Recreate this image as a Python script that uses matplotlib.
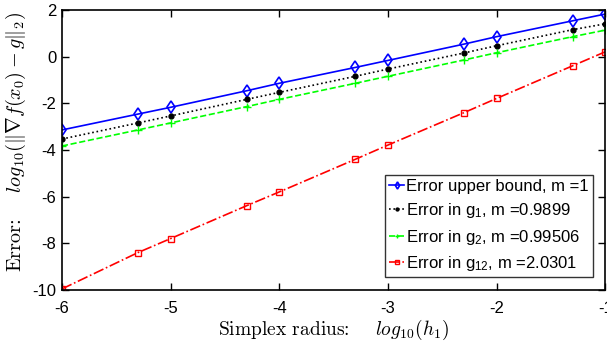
import matplotlib
matplotlib.use('Agg')
import matplotlib.pyplot as plt

plt.rcParams['font.family'] = ['Liberation Sans', 'DejaVu Sans']
plt.rcParams['mathtext.fontset'] = 'cm'
plt.rcParams['axes.unicode_minus'] = False

# data: log10 of simplex radius vs log10 of error
h = [-6, -5.3, -5, -4.3, -4, -3.3, -3, -2.3, -2, -1.3, -1]
err_bound = [-3.14, -2.46, -2.17, -1.46, -1.14, -0.46, -0.16, 0.54, 0.86, 1.54, 1.83]
err_g1 = [-3.53, -2.84, -2.54, -1.83, -1.53, -0.84, -0.53, 0.16, 0.47, 1.16, 1.41]
err_g2 = [-3.83, -3.14, -2.84, -2.14, -1.83, -1.14, -0.84, -0.14, 0.17, 0.86, 1.14]
err_g12 = [-9.96, -8.40, -7.80, -6.39, -5.80, -4.40, -3.79, -2.40, -1.79, -0.39, 0.21]

labels = ['Error upper bound, m =1',
          r'Error in g$\mathregular{_1}$, m =0.9899',
          r'Error in g$\mathregular{_2}$, m =0.99506',
          r'Error in g$\mathregular{_{12}}$, m =2.0301']

fig = plt.figure(figsize=(6.07, 3.48), dpi=100)
ax = fig.add_axes([0.102, 0.167, 0.895, 0.804])

ax.plot(h, err_bound, 'b-', marker='d', mfc='none', ms=6, mew=1.2, lw=1.2, label=labels[0])
ax.plot(h, err_g1, 'k:', marker='.', ms=7, lw=1.2, label=labels[1])
ax.plot(h, err_g2, color='#00ff00', ls='--', marker='+', ms=6, lw=1.2, label=labels[2])
ax.plot(h, err_g12, 'r-.', marker='s', mfc='none', ms=4, mew=1.0, lw=1.2, label=labels[3])

ax.set_xlim(-6, -1)
ax.set_ylim(-10, 2)
ax.set_xticks([-6, -5, -4, -3, -2, -1])
ax.set_yticks([-10, -8, -6, -4, -2, 0, 2])
ax.tick_params(direction='in', top=True, right=True, labelsize=12, length=5, width=1)
ax.tick_params(axis='x', pad=8)
ax.tick_params(axis='y', pad=4)
for s in ax.spines.values():
    s.set_linewidth(1.2)

ax.set_xlabel(r'Simplex radius:    $log_{10}(h_1)$', fontsize=14, family='cmr10', labelpad=1)
ax.set_ylabel(r'Error:    $log_{10}(\|\nabla f(x_0) - g\|_2)$', fontsize=14.5, family='cmr10')
ax.yaxis.set_label_coords(-0.062, 0.53)

leg = ax.legend(loc='lower right', fontsize=12, frameon=True, fancybox=False,
                edgecolor='k', handlelength=0.9, handletextpad=0.1, markerscale=0.6,
                borderpad=0.25, labelspacing=0.45, borderaxespad=0.75)
leg.get_frame().set_linewidth(1.0)

fig.savefig('out.png', dpi=100)
